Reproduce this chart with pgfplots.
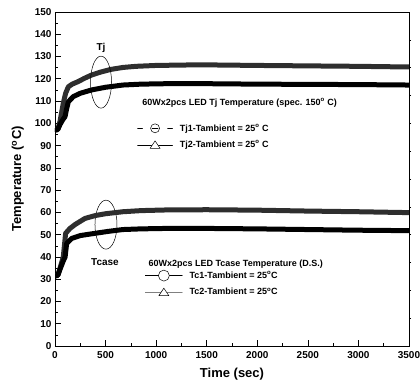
\documentclass[border=0pt]{standalone}
\usepackage{fontspec}
\setmainfont{Liberation Sans}
\usepackage{pgfplots}
\pgfplotsset{compat=1.18}
\definecolor{dgray}{HTML}{2E2E2E}
\begin{document}
\begin{tikzpicture}
\pgfplotsset{
  common/.style={
    scale only axis, width=354pt, height=334pt,
    xmin=0, xmax=3500, ymin=0, ymax=150,
    at={(0pt,0pt)}, anchor=south west,
  }
}
\begin{axis}[common,
  axis line style={line width=0.8pt},
  xtick={0,500,...,3500}, ytick={0,10,...,150},
  minor x tick num=1, minor y tick num=1,
  tick align=inside, major tick length=6pt, minor tick length=3pt,
  xtick pos=bottom, ytick pos=left,
  tick style={black, line width=0.6pt},
  tick label style={font=\fontsize{10}{12}\selectfont\bfseries},
  xticklabel style={yshift=-2pt},
  /pgf/number format/assume math mode=true,
  /pgf/number format/set thousands separator={},
  xlabel={\fontsize{13}{15}\selectfont\bfseries Time (sec)},
  ylabel={\fontsize{13}{15}\selectfont\bfseries Temperature (\textsuperscript{o}C)},
  xlabel style={yshift=-3pt}, ylabel style={yshift=4pt},
  legend style={draw=none, fill=none, at={(0.232,0.627)}, anchor=west,
    font=\fontsize{9}{10}\selectfont\bfseries, inner sep=0pt, row sep=4pt,
    legend cell align=left},
]
\addplot[dgray, line width=5pt, line cap=round, line join=round,
  legend image code/.code={
    \draw[black,line width=0.5pt] (0pt,0pt)--(5pt,0pt);
    \draw[black,line width=0.5pt] (30pt,0pt)--(35pt,0pt);
    \draw[black,line width=0.5pt] (17.5pt,0pt) circle (4.5pt);
    \draw[black,line width=0.5pt] (14.5pt,0pt)--(20.5pt,0pt);
  }] coordinates {
(15,97) (30,97.5) (50,101) (82,109) (105,113.5) (132,116.4) (170,117.6) (227,118.7) (290,120.2) (362,121.7) (450,123) (550,124.2) (672,125.1) (800,125.6) (1000,126) (1300,126.2) (1600,126.2) (2000,126) (2500,125.8) (3000,125.6) (3500,125.3)};
\addlegendentry{\hspace{5pt}Tj1-Tambient = 25\textsuperscript{o} C}
\addplot[black, line width=5pt, line cap=round, line join=round,
  legend image code/.code={
    \draw[black,line width=0.5pt] (0pt,0pt)--(35pt,0pt);
    \draw[black,line width=0.5pt,fill=white] (12.5pt,-3.5pt)--(22.5pt,-3.5pt)--(17.5pt,4pt)--cycle;
  }] coordinates {
(15,97) (30,97.5) (50,99.5) (75,101.5) (99,103) (115,106.5) (132,109.7) (181,112) (250,113.5) (362,115) (500,116.2) (672,117.2) (850,117.6) (1100,117.8) (1500,117.8) (2000,117.6) (2500,117.5) (3000,117.4) (3500,117.2)};
\addlegendentry{\hspace{5pt}Tj2-Tambient = 25\textsuperscript{o} C}
\node[anchor=west, font=\fontsize{9}{10}\selectfont\bfseries] at (axis cs:830,109.3) {60Wx2pcs LED Tj Temperature (spec. 150\textsuperscript{o} C)};
\node[font=\fontsize{10}{12}\selectfont\bfseries] at (axis cs:455,134) {Tj};
\draw[black, line width=0.5pt] (axis cs:455,118.5) ellipse [x radius=10.5pt, y radius=26pt];
\node[font=\fontsize{10}{12}\selectfont\bfseries] at (axis cs:494,37.5) {Tcase};
\draw[black, line width=0.5pt] (axis cs:504,54.5) ellipse [x radius=11pt, y radius=24.5pt];
\node[anchor=west, font=\fontsize{9}{10}\selectfont\bfseries] at (axis cs:890,36.8) {60Wx2pcs LED Tcase Temperature (D.S.)};
\end{axis}
\begin{axis}[common, hide axis,
  legend style={draw=none, fill=none, at={(0.254,0.186)}, anchor=west,
    font=\fontsize{9}{10}\selectfont\bfseries, inner sep=0pt, row sep=4pt,
    legend cell align=left},
]
\addplot[dgray, line width=5pt, line cap=round, line join=round,
  legend image code/.code={
    \draw[black,line width=0.5pt] (0pt,0pt)--(37pt,0pt);
    \draw[black,line width=0.5pt,fill=white] (18.5pt,0pt) circle (5.5pt);
  }] coordinates {
(15,31.5) (30,32) (50,35) (82,40) (105,50.6) (148,52.8) (200,54.6) (297,57.3) (400,58.6) (500,59.4) (672,60.3) (850,60.8) (1100,61.1) (1500,61.2) (2000,61) (2500,60.6) (3000,60.3) (3500,59.9)};
\addlegendentry{\hspace{5pt}Tc1-Tambient = 25\textsuperscript{o}C}
\addplot[black, line width=5pt, line cap=round, line join=round,
  legend image code/.code={
    \draw[gray,line width=0.5pt] (0pt,0pt)--(37pt,0pt);
    \draw[black,line width=0.5pt,fill=white] (13.5pt,-3.5pt)--(23.5pt,-3.5pt)--(18.5pt,4pt)--cycle;
  }] coordinates {
(15,31.5) (30,32) (50,34.5) (80,38) (100,40) (115,46) (165,48.3) (250,49.6) (395,50.6) (530,51.5) (672,52.3) (850,52.6) (1100,52.8) (1500,52.8) (2000,52.6) (2500,52.3) (3000,52) (3500,51.8)};
\addlegendentry{\hspace{5pt}Tc2-Tambient = 25\textsuperscript{o}C}
\end{axis}
\begin{axis}[common,
  axis x line=none, axis y line*=right,
  axis line style={draw=none},
  ytick={12.5,25,...,137.5}, yticklabels={},
  tick align=outside, major tick length=2pt,
  tick style={black, line width=0.5pt},
]
\end{axis}
\pgfresetboundingbox
\path (-55pt,-37pt) rectangle (365pt,346pt);
\end{tikzpicture}
\end{document}
